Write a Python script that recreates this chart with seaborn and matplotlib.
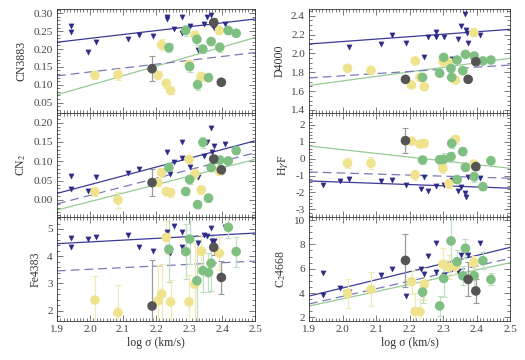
import numpy as np
import matplotlib
matplotlib.use('Agg')
import matplotlib.pyplot as plt
import seaborn as sns
from matplotlib.ticker import MultipleLocator, FormatStrFormatter

nan = np.nan

# x positions (log sigma) of each sample
tri_x = [1.942, 1.942, 1.993, 2.019, 2.114, 2.148, 2.190, 2.233, 2.233, 2.243, 2.256,
         2.279, 2.279, 2.304, 2.328, 2.344, 2.355, 2.367, 2.370, 2.372, 2.375, 2.409]
yel_x = [2.015, 2.085, 2.206, 2.217, 2.231, 2.244, 2.300, 2.318, 2.337, 2.392]
grn_x = [2.239, 2.290, 2.302, 2.324, 2.326, 2.342, 2.359, 2.367, 2.393, 2.419, 2.443]
drk_x = [2.188, 2.375, 2.398]
fit_x = [1.9, 2.5]

# CN3883
cn3883_tri = [0.265, 0.247, 0.193, 0.219, 0.227, 0.239, 0.237, 0.291, 0.283, 0.207, 0.255,
              0.291, 0.246, 0.265, 0.196, 0.269, 0.291, 0.295, 0.270, nan, 0.258, 0.269]
cn3883_yel = [0.127, 0.128, 0.127, 0.212, 0.104, 0.084, 0.157, 0.239, 0.123, 0.252]
cn3883_yel_err = [0.012, 0.015, 0.012, 0.015, 0.012, 0.010, 0.012, 0.010, 0.012, 0.010]
cn3883_grn = [0.204, 0.252, 0.151, 0.227, 0.100, 0.200, 0.120, 0.221, 0.205, 0.252, 0.244]
cn3883_grn_err = [0.012, 0.015, 0.015, 0.015, 0.015, 0.012, 0.010, 0.010, 0.012, 0.010, 0.008]
cn3883_drk = [0.145, 0.274, 0.107]
cn3883_drk_err = [0.035, 0.012, 0.008]
cn3883_fit = {'blue': [0.219, 0.284], 'green': [0.072, 0.232], 'dash': [0.125, 0.190]}

# CN2
cn2_tri = [0.063, 0.029, 0.022, 0.060, 0.069, 0.081, nan, 0.125, 0.023, 0.066, 0.098,
           0.150, 0.108, 0.086, 0.059, 0.115, 0.150, 0.185, 0.125, nan, 0.140, 0.144]
cn2_yel = [0.021, 0.000, 0.045, 0.071, 0.022, 0.019, 0.105, 0.067, 0.026, 0.075]
cn2_yel_err = [0.010, 0.020, 0.010, 0.012, 0.010, 0.010, 0.010, 0.012, 0.010, 0.010]
cn2_grn = [0.084, 0.022, 0.053, nan, -0.012, 0.149, 0.005, 0.084, 0.103, 0.101, 0.128]
cn2_grn_err = [0.012, 0.010, 0.012, nan, 0.010, 0.015, 0.010, 0.010, 0.012, 0.010, 0.010]
cn2_drk = [0.045, 0.106, 0.078]
cn2_drk_err = [0.035, 0.010, 0.010]
cn2_fit = {'blue': [0.017, 0.153], 'green': [-0.026, 0.105], 'dash': [-0.010, 0.122]}

# Fe4383
fe_tri = [4.68, 4.35, 4.62, 4.72, 4.78, 4.35, 4.19, 4.90, nan, 4.13, 5.12,
          4.89, 4.35, 4.62, 4.47, 4.78, 4.76, 5.05, 4.57, nan, 4.57, 5.06]
fe_yel = [2.39, 1.93, 2.36, 2.61, 4.69, 2.32, 2.32, 2.97, 4.18, 4.11]
fe_yel_err = [0.9, 1.0, 1.3, 1.1, 0.6, 0.8, 1.0, 1.5, 0.6, 0.6]
fe_grn = [4.25, 4.17, 4.63, 3.10, nan, 3.47, 3.40, 3.74, nan, 5.06, 4.17]
fe_grn_err = [1.2, 1.0, 0.9, 1.5, nan, 0.8, 0.7, 1.0, nan, 0.4, 0.55]
fe_drk = [2.17, 4.33, 3.22]
fe_drk_err = [1.7, 0.3, 0.6]
fe_fit = {'blue': [4.46, 4.85], 'dash': [3.46, 3.82]}

# D4000
d4000_tri = [nan, nan, nan, 2.068, 2.096, 2.195, 2.107, nan, nan, 1.958, 2.177,
             2.230, 2.177, 2.177, 1.937, 2.153, 2.290, 2.418, 2.248, 2.213, 2.107, 2.195]
d4000_yel = [1.842, 1.820, 1.665, 1.920, 1.746, 1.647, 1.912, 1.905, 1.718, 2.220]
d4000_yel_err = [0.025, 0.025, 0.02, 0.02, 0.02, 0.02, 0.025, 0.02, 0.02, 0.025]
d4000_grn = [1.746, 1.790, 1.958, 1.840, 1.746, 1.930, 1.817, 1.990, 1.972, 1.920, 1.930]
d4000_grn_err = [0.02, 0.02, 0.025, 0.02, 0.02, 0.02, 0.025, 0.02, 0.02, 0.02, 0.02]
d4000_drk = [1.725, 1.725, 1.912]
d4000_drk_err = [0.02, 0.03, 0.03]
d4000_fit = {'blue': [2.100, 2.255], 'green': [1.660, 1.948], 'dash': [1.740, 1.877]}

# HgammaF
hg_tri = [-1.56, nan, -1.32, -1.22, -1.30, -1.26, -1.56, -1.80, nan, -1.06, -1.89,
          -1.64, nan, -1.56, -1.24, -1.90, -1.70, -2.05, -2.27, nan, -1.10, -1.15]
hg_yel = [-0.27, -0.27, 1.04, -0.96, 0.87, 0.91, -0.57, -1.48, 1.15, -0.32]
hg_yel_err = [0.3, 0.35, 0.15, 0.3, 0.2, 0.2, 0.3, 0.25, 0.25, 0.25]
hg_grn = [-0.08, -0.06, -0.04, 0.12, 0.91, -1.24, 0.42, -0.51, -1.07, -1.66, -0.12]
hg_grn_err = [0.25, 0.3, 0.35, 0.3, 0.3, 0.2, 0.2, 0.25, 0.3, 0.2, 0.2]
hg_drk = [1.07, nan, -0.47]
hg_drk_err = [0.75, nan, 0.2]
hg_fit = {'blue': [-1.32, -1.75], 'green': [0.755, -0.57], 'dash': [-0.79, -1.16]}

# C24668
c2_tri = [5.62, 3.84, 4.44, 4.11, 5.48, 5.97, 3.76, 5.96, 3.89, 5.58, 7.07,
          8.08, 5.70, 5.45, 5.97, 5.84, 7.15, 7.80, 7.38, nan, 7.12, 8.12]
c2_yel = [3.97, 4.30, 4.93, 2.47, 2.47, 4.72, 6.37, 6.13, 6.16, 6.52]
c2_yel_err = [1.2, 1.4, 1.0, 1.5, 1.0, 1.3, 1.3, 1.0, 0.6, 0.5]
c2_grn = [4.08, 2.94, 5.20, 8.28, nan, 6.57, 5.42, 7.67, 5.42, 6.66, 5.12]
c2_grn_err = [0.9, 0.8, 1.5, 2.0, nan, 1.0, 0.8, 0.8, 0.9, 0.7, 0.5]
c2_drk = [6.68, 5.12, 4.17]
c2_drk_err = [2.2, 1.4, 1.0]
c2_fit = {'blue': [3.75, 7.75], 'green': [2.93, 6.49], 'dash': [3.10, 6.85]}

# label, points, fits, y-limits, major/minor tick step, tick format
panels = [
    ('CN3883', cn3883_tri, cn3883_yel, cn3883_yel_err, cn3883_grn, cn3883_grn_err,
     cn3883_drk, cn3883_drk_err, cn3883_fit, (0.021, 0.312), 0.05, 0.01, '%.2f'),
    ('CN$_2$', cn2_tri, cn2_yel, cn2_yel_err, cn2_grn, cn2_grn_err,
     cn2_drk, cn2_drk_err, cn2_fit, (-0.044, 0.225), 0.05, 0.01, '%.2f'),
    ('Fe4383', fe_tri, fe_yel, fe_yel_err, fe_grn, fe_grn_err,
     fe_drk, fe_drk_err, fe_fit, (1.62, 5.44), 1, 0.2, '%d'),
    ('D4000', d4000_tri, d4000_yel, d4000_yel_err, d4000_grn, d4000_grn_err,
     d4000_drk, d4000_drk_err, d4000_fit, (1.368, 2.471), 0.2, 0.05, '%.1f'),
    ('H$\\gamma$F', hg_tri, hg_yel, hg_yel_err, hg_grn, hg_grn_err,
     hg_drk, hg_drk_err, hg_fit, (-3.46, 2.71), 1, 0.2, '%d'),
    ('C$_2$4668', c2_tri, c2_yel, c2_yel_err, c2_grn, c2_grn_err,
     c2_drk, c2_drk_err, c2_fit, (1.70, 10.25), 2, 0.5, '%d'),
]

sns.set_style('ticks')
plt.rcParams['font.family'] = ['Liberation Serif', 'DejaVu Serif']
plt.rcParams['mathtext.fontset'] = 'stix'

TRI = '#2d2a88'
YEL = '#efe38e'
GRN = '#80bf82'
DRK = '#555555'
fit_colors = {'blue': '#3c3a98', 'green': '#95cc95', 'dash': '#7a7ab8'}
err_colors = {'yel': '#f2eab4', 'grn': '#bfe0c0', 'drk': '#9a9a9a'}

fig = plt.figure(figsize=(5.25, 3.6), dpi=100)
lefts = [57 / 525, 309 / 525]
widths = [198 / 525, 201 / 525]
bottoms = [1 - 113 / 360, 1 - 217 / 360, 1 - 321 / 360]
h = 104 / 360

for i, (lab, tri, yel, yel_e, grn, grn_e, drk, drk_e, fit, ylim, major, minor, fmt) in enumerate(panels):
    col, row = divmod(i, 3)
    ax = fig.add_axes([lefts[col], bottoms[row], widths[col], h])

    # fitted relations
    for name, ys in fit.items():
        sns.lineplot(x=fit_x, y=ys, ax=ax, color=fit_colors[name], linewidth=0.9,
                     linestyle=(0, (7, 4)) if name == 'dash' else '-', zorder=1)

    # error bars under the circles
    for xs, ys, es, key in [(yel_x, yel, yel_e, 'yel'), (grn_x, grn, grn_e, 'grn'),
                            (drk_x, drk, drk_e, 'drk')]:
        ax.errorbar(xs, ys, yerr=es, fmt='none', ecolor=err_colors[key],
                    elinewidth=0.9, capsize=2.5, capthick=0.8, zorder=2)

    sns.scatterplot(x=tri_x, y=tri, ax=ax, marker='v', s=14, color=TRI,
                    edgecolor=TRI, linewidth=0.3, zorder=3)
    sns.scatterplot(x=yel_x, y=yel, ax=ax, s=48, color=YEL, edgecolor='none', zorder=4)
    sns.scatterplot(x=grn_x, y=grn, ax=ax, s=48, color=GRN, edgecolor='none', zorder=4)
    sns.scatterplot(x=drk_x, y=drk, ax=ax, s=48, color=DRK, edgecolor='none', zorder=4)

    ax.set_xlim(1.9, 2.5)
    ax.set_ylim(*ylim)
    ax.xaxis.set_major_locator(MultipleLocator(0.1))
    ax.xaxis.set_minor_locator(MultipleLocator(0.01))
    ax.yaxis.set_major_locator(MultipleLocator(major))
    ax.yaxis.set_minor_locator(MultipleLocator(minor))
    ax.yaxis.set_major_formatter(FormatStrFormatter(fmt))
    ax.tick_params(which='both', direction='in', top=True, right=True,
                   labelsize=8, color='#444444', labelcolor='#444444', width=0.5, pad=3)
    ax.tick_params(which='major', length=4)
    ax.tick_params(which='minor', length=2)
    for sp in ax.spines.values():
        sp.set_linewidth(0.6)
        sp.set_color('#333333')
    ax.set_ylabel(lab, fontsize=8.5, labelpad=4, color='#333333')
    if row == 2:
        ax.set_xlabel('log σ (km/s)', fontsize=8.5, labelpad=2, color='#333333')
        ax.xaxis.set_major_formatter(FormatStrFormatter('%.1f'))
    else:
        ax.set_xticklabels([])
        ax.set_xlabel('')

fig.savefig('out.png', dpi=100)
